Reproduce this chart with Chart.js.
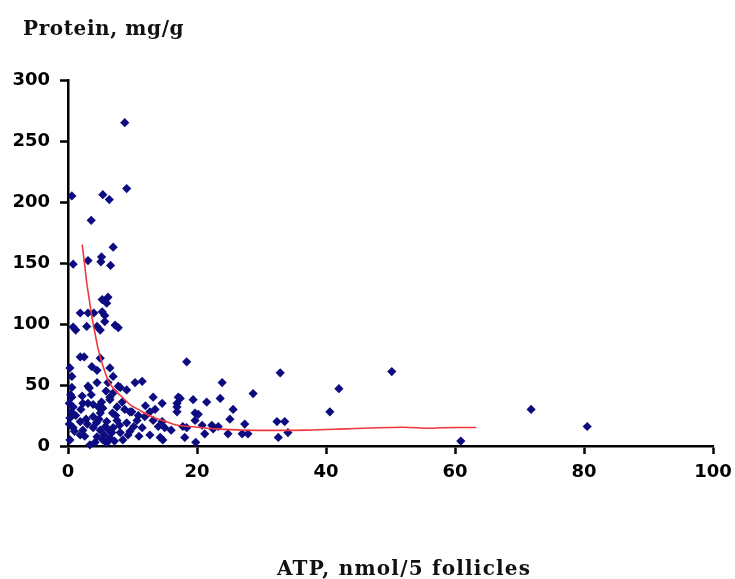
<!DOCTYPE html>
<html>
<head>
<meta charset="utf-8">
<script src="https://cdn.jsdelivr.net/npm/chart.js@4"></script>
<style>
    body { margin: 0; background: #fff; }
    #wrap { position: relative; width: 735px; height: 579px; }
    .axis-title { position: absolute; font-family: "DejaVu Serif", serif; font-weight: bold; font-size: 20px; color: #111; white-space: nowrap; }
    #y-title { left: 23px; top: 16px; letter-spacing: 0.6px; }
    #x-title { left: 277px; top: 556px; letter-spacing: 1.2px; }
</style>
</head>
<body>
<div id="wrap">
    <canvas id="chart" width="735" height="579"></canvas>
    <div class="axis-title" id="y-title">Protein, mg/g</div>
    <div class="axis-title" id="x-title">ATP, nmol/5 follicles</div>
</div>
<script>
// measured points, ATP (x) and protein (y)
const atp = [
    8.8, 0.6, 9.1, 5.4, 6.4, 3.6, 0.8, 3.1, 5.1, 5.2, 7.0, 6.6,
    5.3, 6.2, 6.0, 1.9, 3.1, 4.0, 5.3, 5.7,
    0.8, 1.2, 2.9, 4.5, 5.0, 5.7, 7.3, 7.8,
    1.9, 2.5, 5.0, 18.4,
    0.3, 0.6, 3.7, 4.5, 6.5, 7.0,
    0.6, 3.1, 4.5, 6.2, 7.8, 10.4, 11.5,
    0.6, 2.2, 3.1, 4.7, 6.5, 8.4, 9.1, 13.2, 14.6, 17.1, 16.9,
    32.9, 23.9, 28.7, 42.0, 40.6, 19.4, 21.5, 23.6, 25.6, 25.1, 27.4, 32.4, 33.6, 32.6, 34.1,
    24.8, 27.0, 27.9, 18.1, 19.8, 21.2, 22.3, 22.5, 20.2, 19.7, 18.4, 20.8, 17.4,
    50.2, 71.8, 80.5, 60.9,
    16.9, 16.9, 13.5, 12.7, 19.7, 14.6, 13.2, 11.9, 10.9, 9.9, 11.5, 12.7, 14.3, 14.7, 16.0, 17.8, 23.3, 15.0, 14.0,
    3.3, 8.1, 2.3, 0.8, 3.9, 5.4, 6.5, 7.6, 9.6, 0.3, 1.9, 3.9, 5.0, 6.0, 7.6, 9.1, 10.7,
    0.8, 2.3, 3.9, 5.0, 7.0, 8.1, 9.6, 0.3, 3.4, 5.4, 6.5, 4.5, 1.9, 8.5, 6.0,
    0.2, 0.5, 1.2, 2.8, 4.4, 5.8, 6.8, 7.4, 8.8, 2.0, 3.0, 4.2, 5.6, 6.3, 7.2, 8.0, 1.0, 2.6, 4.8, 6.9,
    5.2, 10.2, 11.0, 12.0, 9.3, 0.4, 0.2, 5.9, 7.1, 3.6
];
const protein = [
    265, 205, 211, 206, 202, 185, 149, 152, 151, 155, 163, 148,
    120, 122, 117, 109, 109, 109, 110, 107,
    97.5, 95, 98, 98, 95, 102, 99, 97,
    73, 73, 72, 69,
    64, 57, 65, 62, 64, 57,
    48, 49, 52, 52, 49, 52, 53,
    40, 41, 35, 32, 40, 36, 46, 40, 35, 40, 35,
    60, 52, 43, 47, 28, 38, 36, 39, 30, 22, 18, 20, 20, 7, 11,
    10, 10, 10, 7, 3, 10, 17, 14, 26, 21, 15, 17, 39,
    61, 30, 16, 4,
    32, 28, 30, 28, 27, 20, 21, 24, 25, 28, 15, 9, 7, 5, 13, 16, 16, 15, 16,
    47.5, 48, 35, 32, 34, 31, 38, 32, 28, 23, 20, 24, 27, 20, 21, 19, 21,
    15, 13, 15, 13, 15, 11, 12, 5, 1, 5, 6.5, 7.5, 9, 5, 2.5,
    18, 28, 25, 22, 19, 16, 11, 25, 30, 30, 18, 3, 9, 13, 4, 17, 12, 8, 22, 27,
    36, 16, 8, 33, 9, 42, 35, 45, 44, 42
];

// fitted curve as drawn
const trendAtp = [2.2, 2.6, 2.9, 3.3, 3.7, 4.2, 4.7, 5.4, 6.2, 7.2, 8.4, 9.6, 10.9, 12.2, 13.5, 15.2, 17, 19.7, 23, 27, 32, 37, 42, 47, 52, 56, 58, 63.3];
const trendProtein = [165, 148, 134, 120, 106, 92, 79, 66, 54, 46, 40, 34, 30, 26, 23, 20, 17, 15.6, 14, 13, 12.8, 13, 13.8, 14.8, 15.4, 14.6, 15, 15.2];

const xTicks = [0, 20, 40, 60, 80, 100];
const yTicks = [0, 50, 100, 150, 200, 250, 300];

const points = atp.map((x, i) => ({ x: x, y: protein[i] }));
const trend = trendAtp.map((x, i) => ({ x: x, y: trendProtein[i] }));

const tickFont = { family: "DejaVu Sans", weight: "bold", size: 18 };

new Chart(document.getElementById("chart"), {
    type: "scatter",
    data: {
        datasets: [
            {
                type: "line",
                data: trend,
                borderColor: "#f0383c",
                borderWidth: 1.6,
                pointRadius: 0,
                tension: 0.3,
                fill: false
            },
            {
                data: points,
                pointStyle: "rectRot",
                pointRadius: 4.6,
                backgroundColor: "#0c0c80",
                borderColor: "#0c0c80",
                borderWidth: 0,
                clip: false
            }
        ]
    },
    options: {
        responsive: false,
        animation: false,
        devicePixelRatio: 1,
        layout: { padding: { top: 80, right: 22, left: 0, bottom: 0 } },
        plugins: { legend: { display: false }, tooltip: { enabled: false } },
        scales: {
            x: {
                min: 0, max: 100,
                afterBuildTicks: (s) => { s.ticks = xTicks.map(v => ({ value: v })); },
                afterFit: (s) => { s.height = 133; s.paddingLeft = 0; s.paddingRight = 0; },
                border: { color: "#000", width: 2.5 },
                grid: { drawOnChartArea: false, tickLength: 8, tickWidth: 2.5, tickColor: "#000" },
                ticks: { color: "#000", font: tickFont, padding: 8, maxRotation: 0 }
            },
            y: {
                min: 0, max: 300,
                afterBuildTicks: (s) => { s.ticks = yTicks.map(v => ({ value: v })); },
                afterFit: (s) => { s.width = 68; s.paddingTop = 0; s.paddingBottom = 0; },
                border: { color: "#000", width: 2.5 },
                grid: { drawOnChartArea: false, tickLength: 8, tickWidth: 2.5, tickColor: "#000" },
                ticks: { color: "#000", font: tickFont, padding: 10 }
            }
        }
    }
});
</script>
</body>
</html>
